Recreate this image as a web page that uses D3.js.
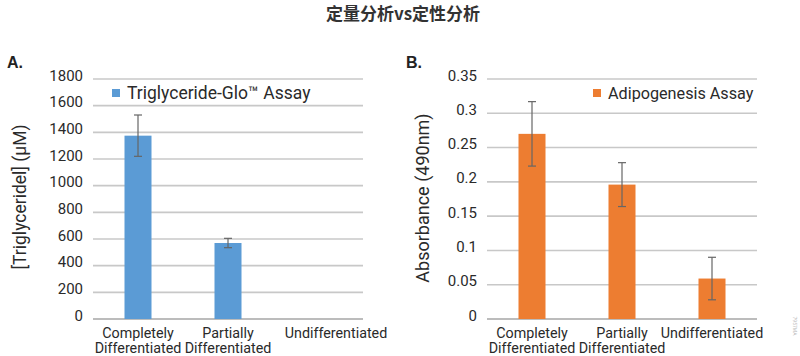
<!DOCTYPE html>
<html><head><meta charset="utf-8">
<script src="https://cdn.jsdelivr.net/npm/d3@7"></script>
<style>body{margin:0;background:#fff}svg{display:block}</style>
</head><body><svg id="c" width="800" height="356"></svg>
<script>
const categories = [["Completely","Differentiated"],["Partially","Differentiated"],["Undifferentiated"]];
const triValues = [1375, 570, 0];
const triErrors = [155, 35, 0];
const absValues = [0.270, 0.196, 0.059];
const absErrors = [0.047, 0.032, 0.031];
const triTicks = [0,200,400,600,800,1000,1200,1400,1600,1800];
const absTicks = [0,0.05,0.1,0.15,0.2,0.25,0.3,0.35];
const absTickLabels = ["0","0.05","0.1","0.15","0.2","0.25","0.3","0.35"];

const svg = d3.select("#c");
const font = "Roboto, 'Liberation Sans', sans-serif";
const txt = "#2a2a2a";

svg.append("text").attr("x",403).attr("y",20).attr("text-anchor","middle")
  .attr("font-family","'Noto Sans CJK SC', sans-serif").attr("font-weight","bold")
  .attr("font-size",17).attr("fill","#333").text("定量分析vs定性分析");

function panel(opt){
  const g = svg.append("g");
  const y = d3.scaleLinear().domain([0,opt.max]).range([319,79]);
  const x = d3.scaleBand().domain(d3.range(3)).range([opt.x0,opt.x0+270]);
  // grid
  g.selectAll("line.grid").data(opt.ticks).join("line")
    .attr("x1",opt.x0).attr("x2",opt.x0+270)
    .attr("y1",d=>y(d)).attr("y2",d=>y(d))
    .attr("stroke",d=>d===0?"#a6a6a6":"#c8c8c8").attr("stroke-width",1.6);
  // tick labels
  g.selectAll("text.tick").data(opt.ticks).join("text")
    .attr("x",opt.x0-10).attr("y",d=>y(d)).attr("dy","0.1em")
    .attr("text-anchor","end").attr("font-family",font).attr("font-size",15)
    .attr("fill",txt).text((d,i)=>opt.labels[i]);
  // bars
  const bw = 27;
  g.selectAll("rect.bar").data(opt.values).join("rect")
    .attr("x",(d,i)=>x(i)+x.bandwidth()/2-bw/2).attr("width",bw)
    .attr("y",d=>y(d)).attr("height",d=>y(0)-y(d)).attr("fill",opt.color);
  // error bars
  opt.values.forEach((v,i)=>{
    const e = opt.errors[i]; if(!e) return;
    const cx = x(i)+x.bandwidth()/2;
    g.append("line").attr("x1",cx).attr("x2",cx).attr("y1",y(v+e)).attr("y2",y(v-e))
      .attr("stroke","#666").attr("stroke-width",1.2);
    [v+e,v-e].forEach(t=>g.append("line").attr("x1",cx-4).attr("x2",cx+4)
      .attr("y1",y(t)).attr("y2",y(t)).attr("stroke","#666").attr("stroke-width",1.2));
  });
  // category labels
  categories.forEach((c,i)=>{
    const cx = x(i)+x.bandwidth()/2 + (c.length===1?opt.undOff:0);
    c.forEach((line,j)=>{
      g.append("text").attr("x",cx).attr("y",338+j*15).attr("text-anchor","middle")
        .attr("font-family",font).attr("font-size",14.3).attr("fill",txt).text(line);
    });
  });
  // y title
  g.append("text").attr("transform",`translate(${opt.titleX},${opt.titleY}) rotate(-90)`)
    .attr("text-anchor","middle").attr("font-family",font).attr("font-size",opt.titleSize)
    .attr("fill",txt).text(opt.title);
  // panel letter
  g.append("text").attr("x",opt.letterX).attr("y",68).attr("font-family","'Liberation Sans', Arial, sans-serif")
    .attr("font-weight","bold").attr("font-size",16).attr("fill","#222").text(opt.letter);
  // legend
  g.append("rect").attr("x",opt.legX).attr("y",89).attr("width",8).attr("height",8).attr("fill",opt.color);
  g.append("text").attr("x",opt.legX+15).attr("y",99).attr("font-family",font).attr("font-size",opt.legSize)
    .attr("fill",txt).text(opt.legend);
}

panel({x0:93,max:1800,ticks:triTicks,labels:triTicks.map(String),values:triValues,errors:triErrors,
  color:"#5b9bd5",title:"[Triglyceridel] (μM)",titleSize:17.5,titleX:26,titleY:197,letter:"A.",letterX:7,
  legX:112,legend:"Triglyceride-Glo™ Assay",legSize:17.5,undOff:18});
panel({x0:487,max:0.35,ticks:absTicks,labels:absTickLabels,values:absValues,errors:absErrors,
  color:"#ed7d31",title:"Absorbance (490nm)",titleSize:18,titleX:429,titleY:198,letter:"B.",letterX:406,
  legX:593,legend:"Adipogenesis Assay",legSize:16.2,undOff:0});

svg.append("text").attr("transform","translate(793,326) rotate(90)").attr("text-anchor","middle")
  .attr("font-family",font).attr("font-size",5).attr("fill","#bbb").text("7957MA");
</script></body></html>
